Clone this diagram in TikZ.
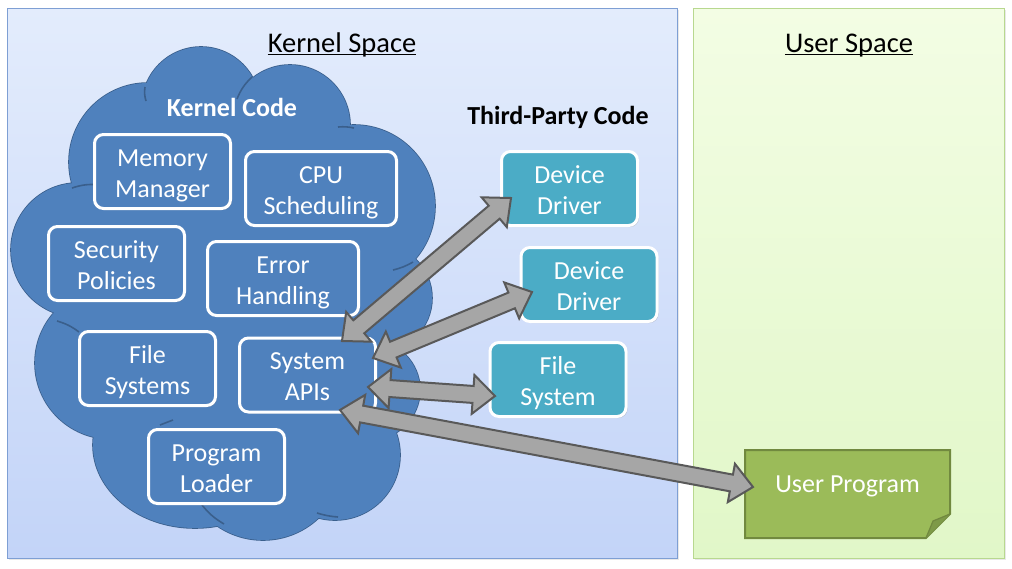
\documentclass[tikz,border=0pt]{standalone}
\usepackage{fontspec}
\setmainfont{Carlito}
\usetikzlibrary{calc,shadows}
\definecolor{kbord}{HTML}{7E9FD4}
\definecolor{ktop}{HTML}{E3ECFC}
\definecolor{kbot}{HTML}{C3D4F8}
\definecolor{ubord}{HTML}{B8D88F}
\definecolor{utop}{HTML}{F3FDE4}
\definecolor{ubot}{HTML}{E1F7C8}
\definecolor{cloudfill}{HTML}{4F81BD}
\definecolor{cloudline}{HTML}{3A5F8C}
\definecolor{tealc}{HTML}{4BACC6}
\definecolor{upfill}{HTML}{9BBB59}
\definecolor{upline}{HTML}{71893F}
\definecolor{upfold}{HTML}{7E9A48}
\definecolor{arrfill}{HTML}{A6A6A6}
\definecolor{arrline}{HTML}{595959}
\newcommand\HL{22pt}
\newcommand\HW{19.5pt}
\newcommand\SW{8.5pt}
\newcommand\dblarrow[2]{%
  \draw[blk] (#1) -- ($(#1)!\HL!(#2)!\HW!90:(#2)$) -- ($(#1)!\HL!(#2)!\SW!90:(#2)$)
    -- ($(#2)!\HL!(#1)!\SW!-90:(#1)$) -- ($(#2)!\HL!(#1)!\HW!-90:(#1)$) -- (#2)
    -- ($(#2)!\HL!(#1)!\HW!90:(#1)$) -- ($(#2)!\HL!(#1)!\SW!90:(#1)$)
    -- ($(#1)!\HL!(#2)!\SW!-90:(#2)$) -- ($(#1)!\HL!(#2)!\HW!-90:(#2)$) -- cycle;}
\tikzset{
  kpanel/.style={draw=kbord, line width=1pt, top color=ktop, bottom color=kbot,
    drop shadow={opacity=0.18, shadow xshift=2pt, shadow yshift=-2pt}},
  upanel/.style={draw=ubord, line width=1pt, top color=utop, bottom color=ubot,
    drop shadow={opacity=0.18, shadow xshift=2pt, shadow yshift=-2pt}},
  boxtext/.style={font=\fontsize{26}{31}\selectfont, text=white, align=center, inner sep=0pt},
  kbox/.style={boxtext, draw=white, line width=3pt, rounded corners=9pt, fill=cloudfill,
    minimum width=136pt, minimum height=74pt, text height=57pt, text depth=6pt,
    drop shadow={opacity=0.3, shadow xshift=1.5pt, shadow yshift=-1.5pt}},
  tbox/.style={kbox, fill=tealc},
  title/.style={font=\fontsize{28.5}{34}\selectfont, inner sep=0pt, anchor=base},
  label/.style={font=\fontsize{26}{31}\selectfont\bfseries, inner sep=0pt},
  blk/.style={fill=arrfill, draw=arrline, line width=2pt, line join=miter},
  cloudpart/.style={draw=cloudline, line width=1.6pt, fill=cloudfill},
  stub/.style={draw=cloudline, line width=1.6pt},
}
\begin{document}
\begin{tikzpicture}[x=1pt,y=-1pt]
\useasboundingbox (0,0) rectangle (1012,568);
\fill[white] (0,0) rectangle (1012,568);
% panels
\node[kpanel, minimum width=670pt, minimum height=550pt, inner sep=0pt] (kspace) at (342,283) {};
\node[upanel, minimum width=311pt, minimum height=550pt, inner sep=0pt] (uspace) at (848.5,283) {};
\node[title] (kt) at (342,52) {Kernel Space};
\draw[line width=1.3pt] ([yshift=-2.6pt]kt.base west) -- ([yshift=-2.6pt]kt.base east);
\node[title] (ut) at (849,52) {User Space};
\draw[line width=1.3pt] ([yshift=-2.6pt]ut.base west) -- ([yshift=-2.6pt]ut.base east);
% cloud
\path[cloudpart]
  (201,106) circle[radius=59pt]
  (290,125) circle[radius=60pt]
  (354,206) circle[radius=81pt]
  (148,162) circle[radius=79pt]
  (78,250) circle[radius=67pt]
  (111,363) circle[radius=76pt]
  (195,445) ellipse[x radius=102pt, y radius=83pt]
  (263,459) circle[radius=81pt]
  (335,455) circle[radius=65pt]
  (370,390) circle[radius=50pt]
  (378,298) circle[radius=54pt]
  (230,300) ellipse[x radius=170pt, y radius=200pt];
\fill[cloudfill]
  (201,106) circle[radius=59pt]
  (290,125) circle[radius=60pt]
  (354,206) circle[radius=81pt]
  (148,162) circle[radius=79pt]
  (78,250) circle[radius=67pt]
  (111,363) circle[radius=76pt]
  (195,445) ellipse[x radius=102pt, y radius=83pt]
  (263,459) circle[radius=81pt]
  (335,455) circle[radius=65pt]
  (370,390) circle[radius=50pt]
  (378,298) circle[radius=54pt]
  (230,300) ellipse[x radius=170pt, y radius=200pt];
% inner arcs of the cloud
\path[stub] (145,87) to[bend right=12] (146,101);
\path[stub] (252,77) to[bend right=12] (237,99);
\path[stub] (338,127) to[bend left=8] (354,128);
\path[stub] (72,188) to[bend left=12] (100,185);
\path[stub] (57,321) to[bend left=10] (79,332);
\path[stub] (160,425) -- (173,420);
\path[stub] (202,505) to[bend right=10] (224,524);
\path[stub] (317,513) to[bend right=6] (338,517);
\path[stub] (393,270) to[bend right=8] (413,262);
\node[label, text=white] (kc) at (232,107) {Kernel Code};
% kernel boxes
\node[kbox] (mem) at (162.5,171.5) {Memory\\Manager};
\node[kbox, minimum width=151pt] (cpu) at (321,188.5) {CPU\\Scheduling};
\node[kbox] (sec) at (116.5,263.5) {Security\\Policies};
\node[kbox, minimum width=151pt] (err) at (283,278.5) {Error\\Handling};
\node[kbox] (fs) at (147.5,368.5) {File\\Systems};
\node[kbox] (api) at (307.5,375) {System\\APIs};
\node[kbox] (pl) at (216.5,466.5) {Program\\Loader};
% third party
\node[label] (tp) at (558,117) {Third-Party Code};
\node[tbox] (dd1) at (569.5,188.5) {Device\\Driver};
\node[tbox] (dd2) at (589,284.5) {Device\\Driver};
\node[tbox] (tfs) at (558,379.5) {File\\System};
% user program
\coordinate (upnw) at (745,450);
\coordinate (upse) at (950,538);
\draw[upline, fill=upfill, line width=2pt, line join=miter]
  (upnw) -- (upnw -| upse) -- ($(upse)+(0,-24)$) -- ($(upse)+(-24,0)$) -- (upnw |- upse) -- cycle;
\fill[upfold] ($(upse)+(0,-24)$) -- ($(upse)+(-24,0)$) -- ($(upse)+(-17,-17)$) -- cycle;
\draw[upline, line width=1.2pt] ($(upse)+(0,-24)$) -- ($(upse)+(-17,-17)$) -- ($(upse)+(-24,0)$);
\node[boxtext, minimum width=205pt, minimum height=88pt] (up) at ($(upnw)!0.5!(upse)+(0,-8)$) {User Program};
% arrows
\coordinate (a1s) at (342,341); \coordinate (a1e) at (511,198);
\coordinate (a2s) at (373,358); \coordinate (a2e) at (532,292);
\coordinate (a3s) at (368,387); \coordinate (a3e) at (495,396);
\coordinate (a4s) at (340,410); \coordinate (a4e) at (753,487);
\dblarrow{a1s}{a1e}
\dblarrow{a2s}{a2e}
\dblarrow{a3s}{a3e}
\dblarrow{a4s}{a4e}
\end{tikzpicture}
\end{document}
